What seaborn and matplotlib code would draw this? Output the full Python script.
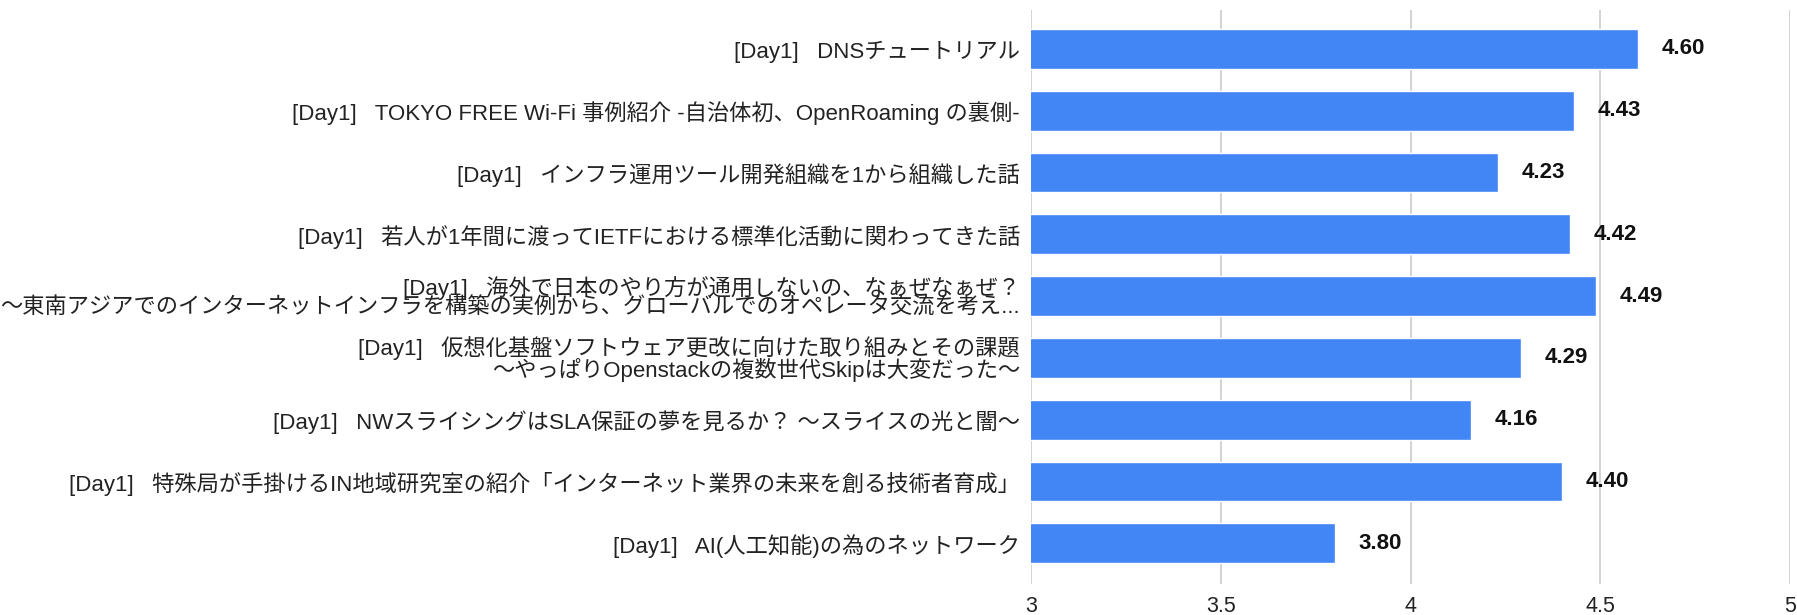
import matplotlib
matplotlib.use("Agg")
import matplotlib.pyplot as plt
import seaborn as sns
import pandas as pd

labels = [
    "[Day1]   DNSチュートリアル",
    "[Day1]   TOKYO FREE Wi-Fi 事例紹介 -自治体初、OpenRoaming の裏側-",
    "[Day1]   インフラ運用ツール開発組織を1から組織した話",
    "[Day1]   若人が1年間に渡ってIETFにおける標準化活動に関わってきた話",
    "[Day1]   海外で日本のやり方が通用しないの、なぁぜなぁぜ？\n～東南アジアでのインターネットインフラを構築の実例から、グローバルでのオペレータ交流を考え...",
    "[Day1]   仮想化基盤ソフトウェア更改に向けた取り組みとその課題\n～やっぱりOpenstackの複数世代Skipは大変だった～",
    "[Day1]   NWスライシングはSLA保証の夢を見るか？ ～スライスの光と闇～",
    "[Day1]   特殊局が手掛けるIN地域研究室の紹介「インターネット業界の未来を創る技術者育成」",
    "[Day1]   AI(人工知能)の為のネットワーク",
]
scores = [4.60, 4.43, 4.23, 4.42, 4.49, 4.29, 4.16, 4.40, 3.80]
xticks = [3, 3.5, 4, 4.5, 5]
xtick_labels = ["3", "3.5", "4", "4.5", "5"]

sns.set_theme(style="white")
plt.rcParams['font.family'] = ['Liberation Sans', 'Noto Sans CJK JP', 'DejaVu Sans']

df = pd.DataFrame({"label": labels, "score": scores})

fig, ax = plt.subplots(figsize=(17.97, 6.15), dpi=100)
fig.subplots_adjust(left=1031/1797, right=1790/1797, top=1 - 10/615, bottom=1 - 584/615)

sns.barplot(data=df, x="score", y="label", orient="h", color="#4285F4",
            width=0.645, ax=ax, saturation=1, zorder=3)

ax.set_xlim(3, 5)
ax.set_ylim(len(labels) - 1 + 0.66, -0.63)
ax.set_xticks(xticks)
ax.set_xticklabels(xtick_labels)
ax.set_yticks(range(len(labels)))
ax.set_yticklabels(labels, linespacing=0.88)
ax.set_xlabel("")
ax.set_ylabel("")

ax.xaxis.grid(True, color="#cccccc", linewidth=1.2, zorder=0)
ax.yaxis.grid(False)
ax.set_axisbelow(True)
for s in ax.spines.values():
    s.set_visible(False)

ax.tick_params(axis="x", length=0, pad=9, labelsize=15.5, labelcolor="#222222")
ax.tick_params(axis="y", length=0, pad=8, labelsize=16, labelcolor="#222222")

for c in ax.containers:
    ax.bar_label(c, fmt="%.2f", padding=17, fontsize=16, fontweight="bold", color="#111111")

fig.savefig("out.png", dpi=100)
